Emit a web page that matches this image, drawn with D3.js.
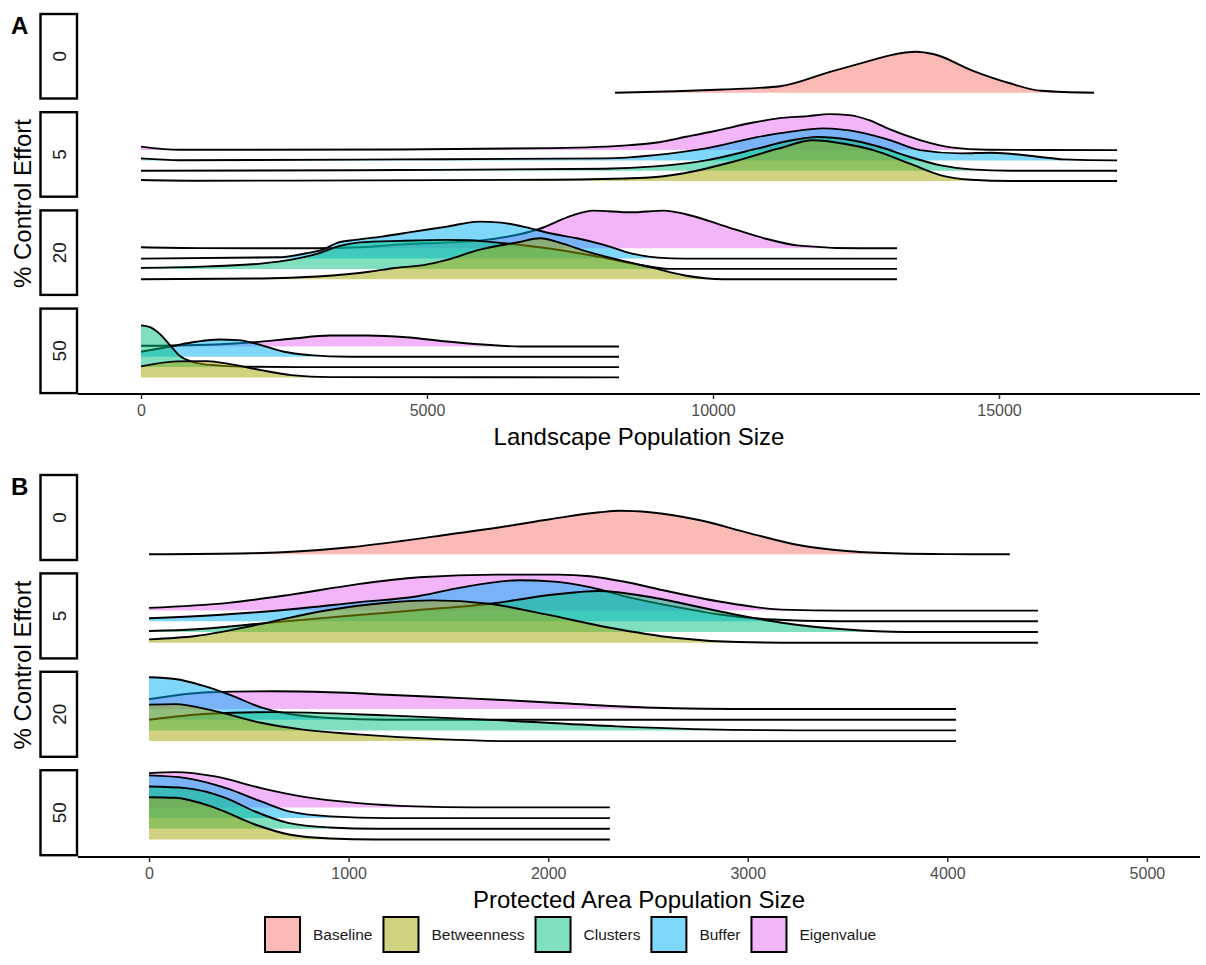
<!DOCTYPE html>
<html><head><meta charset="utf-8">
<script src="https://cdn.jsdelivr.net/npm/d3@7"></script>
<style>body{margin:0;background:#fff;} text{font-family:"Liberation Sans",Arial,Helvetica,sans-serif;}</style>
</head><body>
<svg id="chart" width="1206" height="965"></svg>
<script>
// ---------- categories / labels ----------
const strategies = ["Baseline","Betweenness","Clusters","Buffer","Eigenvalue"];
const strategyColors = ["#F8766D","#A3A500","#00BF7D","#00B0F6","#E76BF3"];
const effortLevels = ["0","5","20","50"];
const landscapeTicks = [0,5000,10000,15000];
const protectedTicks = [0,1000,2000,3000,4000,5000];

// ---------- ridge data: [population size, scaled density] ----------
// Panel A : landscape population
const land0_baseline = [[8287,0],[9347,1.5],[10177,3.3],[11174,6.6],[12046,21],[12675,31],[13112,37.7],[13549,41],[13864,38.5],[14545,22],[15175,9.8],[15735,2],[16662,0]];
const land5_eigenvalue = [[0,3.5],[682,0.3],[4528,0.6],[7203,2],[8549,5],[8986,7.3],[9528,13.3],[10053,19.3],[10682,27.3],[11137,31.7],[11661,34],[12029,36],[12378,35],[12728,30],[13094,20.7],[13619,10],[14161,2.7],[14790,0.3],[17064,0]];
const land5_buffer = [[0,2],[682,0.2],[4528,1],[8095,2],[8986,5.3],[9878,12],[10769,23.3],[11311,28.3],[11924,32],[12553,28.3],[13094,20.3],[13619,10.3],[14335,7],[14877,7.7],[15682,3.7],[16120,1],[17010,0],[17064,0]];
const land5_clusters = [[0,0],[4528,0.7],[8095,2],[8986,4.3],[9878,10.3],[10769,22],[11311,29.7],[11836,33.7],[12378,31],[12920,23.7],[13444,13.7],[13986,5.3],[14511,1.3],[15228,0],[17064,0]];
const land5_betweenness = [[0,1],[1031,0.3],[7203,1.3],[8812,3.3],[9441,7.3],[10333,19],[11137,32.3],[11749,40.7],[12291,37.3],[12815,30.7],[13444,17.3],[13986,5.7],[14511,1.3],[15228,0],[17064,0]];
const land20_eigenvalue = [[0,1],[1031,0.2],[3077,0],[3829,1],[4598,4],[5438,6],[5909,7.7],[6958,19.3],[7535,32.7],[7902,37.7],[8567,36],[9144,37.7],[9511,34.3],[10175,22.7],[10945,9.3],[11503,2.7],[12553,0],[13217,0]];
const land20_buffer = [[0,0],[2412,1.3],[2885,5.3],[3164,8.7],[3444,16],[3742,18.7],[4213,22],[4773,27],[5350,32],[5909,37],[6294,36],[6679,32],[7151,25.3],[7623,20.3],[8095,13.7],[8567,5.3],[9039,1],[9511,0],[13217,0]];
const land20_clusters = [[0,1],[1171,2.5],[2133,5.5],[2605,9],[3077,15],[3479,23],[3829,26.5],[4528,28],[5350,29],[5735,28.7],[6101,27],[6679,23.7],[7343,18.7],[8007,12],[8759,3.7],[9231,0],[13217,0]];
const land20_betweenness = [[0,0],[2133,0.7],[3077,2.7],[4021,7.7],[4405,11],[4965,14.3],[5350,19.3],[5909,29.3],[6600,37],[6980,41],[7343,36],[7815,27.3],[8374,19],[8952,11.3],[9511,3.7],[10175,0],[13217,0]];
const land50_eigenvalue = [[0,0.7],[629,1],[1959,4.3],[2622,7.7],[3305,11],[3969,11],[4633,9.3],[5297,5.3],[5980,2],[6643,0],[8357,0]];
const land50_buffer = [[0,5],[489,10],[962,15],[1364,17.3],[1696,16.7],[2098,11.7],[2500,5],[2954,1.7],[3637,0],[8357,0]];
const land50_clusters = [[0,41.7],[158,40],[332,33],[507,22],[682,11],[857,6],[1031,3.5],[1381,1.5],[1906,0.3],[2780,0],[8357,0]];
const land50_betweenness = [[0,11],[629,16],[1154,16.3],[1556,13.3],[2098,7.3],[2622,2.3],[3305,0.3],[8357,0]];

// Panel B : protected area population
const prot0_baseline = [[0,0],[505,1],[757,3],[1007,7],[1257,13],[1508,20],[1759,27],[2009,35],[2259,42],[2360,43.5],[2509,42],[2761,34],[3011,21],[3261,9],[3511,3],[3763,0.8],[4013,0.2],[4313,0]];
const prot5_eigenvalue = [[0,2.7],[396,7.7],[712,16],[1032,26],[1353,33.3],[1740,36],[2050,36],[2210,34.3],[2370,29.3],[2600,19.3],[2850,9.3],[3010,4.3],[3170,1],[3480,0],[4454,0]];
const prot5_buffer = [[0,3],[396,7],[712,12],[1032,18.7],[1353,25.3],[1560,33.7],[1850,41],[2030,39.7],[2220,33.7],[2410,23.7],[2660,13.7],[2850,7],[3100,2],[3450,0],[4454,0]];
const prot5_clusters = [[0,1],[235,2.7],[551,8.3],[1032,16.7],[1353,22],[1710,28.3],[2040,37.7],[2250,41],[2530,34.3],[2850,21],[3170,9.3],[3480,2.7],[3790,0],[4454,0]];
const prot5_betweenness = [[0,3.3],[235,6.7],[551,18.3],[871,31.7],[1192,40],[1418,42.3],[1703,39],[1989,28.3],[2309,15],[2630,5],[2951,0.7],[3271,0],[4454,0]];
const prot20_eigenvalue = [[0,9.7],[300,16.7],[616,17.7],[907,16.7],[1192,14.3],[1478,11.7],[1769,9],[2054,6],[2345,2.7],[2630,0.7],[2916,0],[4043,0]];
const prot20_buffer = [[0,42.5],[131,40.7],[270,34],[416,24],[561,12.3],[701,5.7],[907,1.7],[1192,0],[4043,0]];
const prot20_clusters = [[0,10.7],[300,16.7],[616,18.3],[1192,15],[1769,10],[2345,4],[2916,0.5],[3261,0],[4043,0]];
const prot20_betweenness = [[0,36.5],[131,37],[331,30],[561,18.3],[762,11.7],[1047,6.7],[1478,1.7],[1769,0],[4043,0]];
const prot50_eigenvalue = [[0,34.3],[131,35.3],[331,31],[561,19.3],[762,11],[1047,4.3],[1338,1],[1623,0],[2309,0]];
const prot50_buffer = [[0,42.7],[185,40],[386,30],[561,16.7],[701,6.7],[907,1.7],[1192,0],[2309,0]];
const prot50_clusters = [[0,42.3],[185,40.7],[386,30.7],[531,17.3],[701,5.7],[907,1.3],[1138,0],[2309,0]];
const prot50_betweenness = [[0,42.3],[131,41.7],[331,31.7],[531,15],[701,5],[907,1],[1138,0],[2309,0]];

// ---------- assemble ----------
const landscapeFacets = {
  "0": {Baseline: land0_baseline},
  "5": {Eigenvalue: land5_eigenvalue, Buffer: land5_buffer, Clusters: land5_clusters, Betweenness: land5_betweenness},
  "20": {Eigenvalue: land20_eigenvalue, Buffer: land20_buffer, Clusters: land20_clusters, Betweenness: land20_betweenness},
  "50": {Eigenvalue: land50_eigenvalue, Buffer: land50_buffer, Clusters: land50_clusters, Betweenness: land50_betweenness}
};
const protectedFacets = {
  "0": {Baseline: prot0_baseline},
  "5": {Eigenvalue: prot5_eigenvalue, Buffer: prot5_buffer, Clusters: prot5_clusters, Betweenness: prot5_betweenness},
  "20": {Eigenvalue: prot20_eigenvalue, Buffer: prot20_buffer, Clusters: prot20_clusters, Betweenness: prot20_betweenness},
  "50": {Eigenvalue: prot50_eigenvalue, Buffer: prot50_buffer, Clusters: prot50_clusters, Betweenness: prot50_betweenness}
};

const color = d3.scaleOrdinal().domain(strategies).range(strategyColors);
const level = {Betweenness:0, Clusters:1, Buffer:2, Eigenvalue:3, Baseline:0};

const svg = d3.select("#chart");
svg.append("rect").attr("width",1206).attr("height",965).attr("fill","#fff");

const panels = [
  {tag:"A", facets:landscapeFacets, ticks:landscapeTicks, domain:[-1101,18514], top:14, stripH:84.5, pitch:98.2, axisY:394, step:10.3, title:"Landscape Population Size"},
  {tag:"B", facets:protectedFacets, ticks:protectedTicks, domain:[-356,5266], top:475, stripH:85, pitch:98.4, axisY:857, step:10.7, title:"Protected Area Population Size"}
];

const plotL = 78, plotR = 1200;

panels.forEach(p => {
  const g = svg.append("g");
  const x = d3.scaleLinear().domain(p.domain).range([plotL, plotR]);
  const hs = d3.scaleLinear().domain([0, 10]).range([0, 10]);

  effortLevels.forEach((lev, i) => {
    const sTop = p.top + i * p.pitch;
    const sBot = sTop + p.stripH;
    const series = p.facets[lev];
    const names = Object.keys(series).sort((a,b)=>level[b]-level[a]);
    names.forEach(name => {
      const base = lev === "0" ? sBot - 5.7 : sBot - 15.7 - level[name] * p.step;
      const data = series[name];
      const area = d3.area().x(d=>x(d[0])).y0(base).y1(d=>base - hs(d[1])).curve(d3.curveMonotoneX);
      const line = d3.line().x(d=>x(d[0])).y(d=>base - hs(d[1])).curve(d3.curveMonotoneX);
      g.append("path").attr("d", area(data)).attr("fill", color(name)).attr("fill-opacity", 0.5);
      g.append("path").attr("d", line(data)).attr("fill","none").attr("stroke","#000").attr("stroke-width",1.9);
    });
    // strip
    g.append("rect").attr("x",40.5).attr("y",sTop).attr("width",36.5).attr("height",p.stripH)
      .attr("fill","#fff").attr("stroke","#000").attr("stroke-width",2.4);
    g.append("text").attr("transform",`translate(${58.7},${(sTop+sBot)/2}) rotate(-90)`)
      .attr("text-anchor","middle").attr("dy","0.36em").attr("font-size",19).attr("fill","#1a1a1a").text(lev);
  });

  // x axis
  g.append("line").attr("x1",plotL).attr("x2",plotR).attr("y1",p.axisY).attr("y2",p.axisY)
    .attr("stroke","#000").attr("stroke-width",2);
  const ax = g.append("g").attr("transform",`translate(0,${p.axisY})`)
    .call(d3.axisBottom(x).tickValues(p.ticks).tickFormat(d3.format("d")).tickSize(5).tickPadding(6));
  ax.select(".domain").remove();
  ax.selectAll(".tick line").attr("stroke","#333").attr("stroke-width",1.5);
  ax.selectAll(".tick text").attr("font-size",16).attr("fill","#4d4d4d").attr("font-family",'"Liberation Sans",Arial,sans-serif');

  g.append("text").attr("x",(plotL+plotR)/2).attr("y",p.axisY+51).attr("text-anchor","middle")
    .attr("font-size",24).attr("fill","#000").text(p.title);
  const midY = (p.top + p.top + 3*p.pitch + p.stripH)/2;
  g.append("text").attr("transform",`translate(31,${midY}) rotate(-90)`).attr("text-anchor","middle")
    .attr("font-size",24).attr("fill","#000").text("% Control Effort");
  g.append("text").attr("x",11).attr("y",p.top+20).attr("font-size",24).attr("font-weight","bold").text(p.tag);
});

// legend
const lg = svg.append("g");
let items = strategies.map(s => ({s}));
const keyS = 35, gapKT = 13, gapItem = 11, legFont = 15.5;
const tmp = lg.append("g");
items.forEach(it => {
  const t = tmp.append("text").attr("font-size",legFont).text(it.s);
  it.w = t.node().getComputedTextLength();
});
tmp.remove();
let cx = 265;
items.forEach(it => {
  lg.append("rect").attr("x",cx).attr("y",917).attr("width",keyS).attr("height",keyS)
    .attr("fill",color(it.s)).attr("fill-opacity",0.5).attr("stroke","#000").attr("stroke-width",2);
  lg.append("text").attr("x",cx+keyS+gapKT).attr("y",940).attr("font-size",legFont).attr("fill","#1a1a1a").text(it.s);
  cx += keyS + gapKT + it.w + gapItem;
});
</script>
</body></html>
